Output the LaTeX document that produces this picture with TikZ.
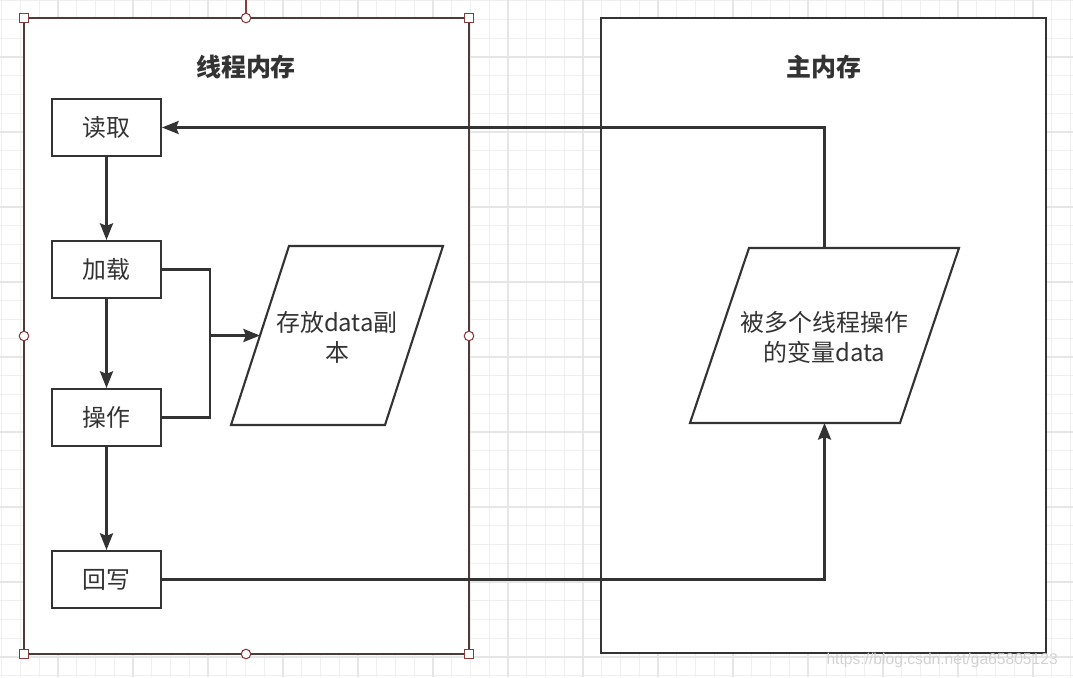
\documentclass[tikz,border=0pt]{standalone}
\usepackage{fontspec}
\setmainfont{Noto Sans CJK SC}
\newfontfamily\markfont{Liberation Sans}
\usepackage{tikz}
\usetikzlibrary{arrows.meta,positioning,calc}
\definecolor{LineDark}{HTML}{333333}
\definecolor{TextDark}{HTML}{333333}
\definecolor{GridFine}{HTML}{EFEFEF}
\definecolor{GridBold}{HTML}{E6E6E6}
\definecolor{SelRed}{HTML}{8A3A3A}
\definecolor{SelLine}{HTML}{4F3A3A}
\tikzset{
  panel/.style={draw=LineDark,line width=1.2pt,fill=white},
  stepbox/.style={draw=LineDark,line width=1.2pt,fill=white,minimum width=2.18cm,minimum height=1.14cm,inner sep=0pt,font=\fontsize{13.6}{16}\selectfont,text=TextDark},
  datatext/.style={align=center,inner sep=0pt,font=\fontsize{13.6}{17}\selectfont,text=TextDark},
  databox/.style={draw=LineDark,line width=1.2pt,fill=white,line join=miter},
  flowarrow/.style={-{Stealth[length=9.5pt,width=7.5pt,inset=1.5pt]},line width=1.2pt,draw=LineDark},
  flowline/.style={line width=1.2pt,draw=LineDark},
  titletext/.style={font=\fontsize{14.2}{17}\selectfont\bfseries,text=TextDark},
  handlebox/.style={draw=SelRed,line width=0.6pt,fill=white,minimum size=0.18cm,inner sep=0pt},
  handledot/.style={circle,draw=SelRed,line width=0.6pt,fill=white,minimum size=0.19cm,inner sep=0pt}
}
\begin{document}
\begin{tikzpicture}[x=0.02cm,y=-0.02cm]
\useasboundingbox (0,0) rectangle (1073,677);
% background grid
\foreach \gx in {1.75,20.5,...,1073} {\draw[GridFine,line width=0.5pt] (\gx,0) -- (\gx,677);}
\foreach \gy in {0.5,19.25,...,677} {\draw[GridFine,line width=0.5pt] (0,\gy) -- (1073,\gy);}
\foreach \gx in {58,133,...,1073} {\draw[GridBold,line width=0.7pt] (\gx,0) -- (\gx,677);}
\foreach \gy in {57,132,...,677} {\draw[GridBold,line width=0.7pt] (0,\gy) -- (1073,\gy);}

% panels
\draw[panel,draw=SelLine] (24,18) rectangle (469,654);
\draw[panel] (601,18) rectangle (1046,653);
\node[titletext] (threadtitle) at (246,67) {线程内存};
\node[titletext] (maintitle) at (824,67) {主内存};

% steps
\node[stepbox] (duqu) at (106.5,127.5) {读取};
\node[stepbox] (jiazai) at (106.5,269.5) {加载};
\node[stepbox] (caozuo) at (106.5,417.5) {操作};
\node[stepbox] (huixie) at (106.5,579.5) {回写};

% data copies
\draw[databox] (289,246) -- (443,246) -- (385,425) -- (231,425) -- cycle;
\node[datatext] (copy) at (337,337) {存放data副\\本};
\coordinate (copyin) at (260,335.5);
\draw[databox] (749,248) -- (959,248) -- (900,423) -- (690,423) -- cycle;
\node[datatext] (var) at (824.5,337) {被多个线程操作\\的变量data};
\coordinate (vartop) at (824.5,248);
\coordinate (varbot) at (824.5,423);
\coordinate (join) at (210,335.5);

% connectors
\draw[flowarrow] (duqu) -- (jiazai);
\draw[flowarrow] (jiazai) -- (caozuo);
\draw[flowarrow] (caozuo) -- (huixie);
\draw[flowline] (jiazai.east) -| (join);
\draw[flowline] (caozuo.east) -| (join);
\draw[flowarrow] (join) -- (copyin);
\draw[flowarrow] (huixie.east) -| (varbot);
\draw[flowarrow] (vartop) |- (duqu.east);

% selection handles
\draw[SelRed,line width=0.8pt] (246,0) -- (246,18);
\foreach \hx/\hy in {24/18,469/18,24/654,469/654} {\node[handlebox] at (\hx,\hy) {};}
\foreach \hx/\hy in {246/18,24/336,469/336,246/654} {\node[handledot] at (\hx,\hy) {};}

% watermark
\node[text=gray!35,font=\markfont\fontsize{8.9}{11}\selectfont,anchor=east] (mark) at (1064,660) {https://blog.csdn.net/ga65805123};
\end{tikzpicture}
\end{document}
